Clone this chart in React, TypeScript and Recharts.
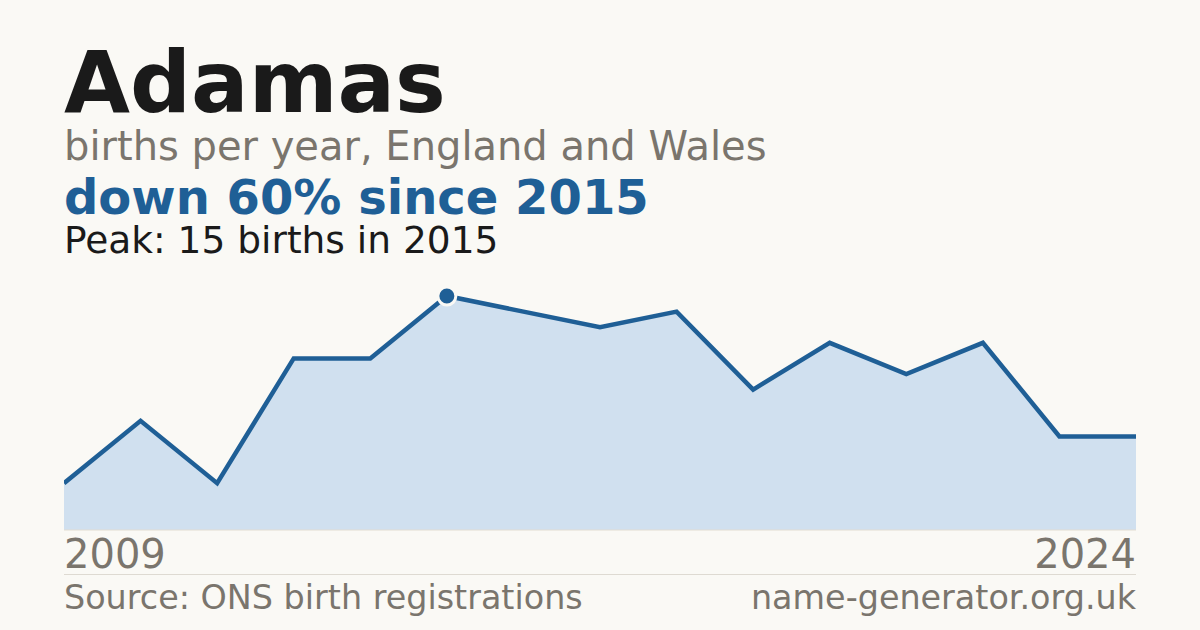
import { AreaChart, Area, XAxis, YAxis, ReferenceDot } from "recharts"

const years = [2009, 2010, 2011, 2013, 2014, 2015, 2016, 2017, 2018, 2019, 2020, 2021, 2022, 2023, 2024]
const births = [3, 7, 3, 11, 11, 15, 14, 13, 14, 9, 12, 10, 12, 6, 6]
const axisYears = [2009, 2024]

const peakYear = 2015
const peakValue = 15

const data = years.map((year, i) => ({ year, births: births[i] }))

const BG = "#faf9f5"
const BLUE = "#1f5f96"
const GREY = "#7a756d"
const FONT = "'DejaVu Sans', sans-serif"

function YearTick(props: any) {
  const { x, payload } = props
  const first = payload.value === axisYears[0]
  return (
    <text x={x} y={288} textAnchor={first ? "start" : "end"} fill={GREY} fontSize={40} fontFamily={FONT}>
      {payload.value}
    </text>
  )
}

// line-height 0.8, so the baseline sits 0.746em below the top of the box
const line = (baseline: number, size: number, color: string, weight: number | string = 400) => ({
  position: "absolute" as const,
  left: 64,
  top: baseline - 0.746 * size,
  fontSize: size,
  lineHeight: 0.8,
  color,
  fontWeight: weight,
  whiteSpace: "nowrap" as const,
})

export default function App() {
  return (
    <div style={{ position: "absolute", left: 0, top: 0, width: 1200, height: 630, background: BG, fontFamily: FONT, overflow: "hidden" }}>
      <div style={line(113, 85.3, "#1a1a1a", 700)}>Adamas</div>
      <div style={line(160, 40, GREY)}>births per year, England and Wales</div>
      <div style={line(214, 48, BLUE, 700)}>down 60% since 2015</div>
      <div style={line(253, 37.5, "#1a1a1a")}>Peak: 15 births in 2015</div>

      <div style={{ position: "absolute", left: 64, top: 280 }}>
        <AreaChart width={1072} height={300} data={data} margin={{ top: 16, right: 0, left: 0, bottom: 0 }}>
          <XAxis
            dataKey="year"
            ticks={axisYears}
            interval={0}
            height={50}
            axisLine={{ stroke: "#e2ddd2", strokeWidth: 1 }}
            tickLine={false}
            tick={<YearTick />}
          />
          <YAxis hide domain={[0, peakValue]} />
          <Area
            type="linear"
            dataKey="births"
            stroke={BLUE}
            strokeWidth={4.5}
            fill="#d0e0ef"
            fillOpacity={1}
            dot={false}
            activeDot={false}
            isAnimationActive={false}
          />
          <ReferenceDot x={peakYear} y={peakValue} r={9} fill={BLUE} stroke={BG} strokeWidth={3} ifOverflow="visible" />
        </AreaChart>
      </div>

      <div style={{ position: "absolute", left: 64, top: 574, width: 1072, borderTop: "1px solid #dedad2" }} />
      <div style={line(610, 33.4, GREY)}>Source: ONS birth registrations</div>
      <div style={{ ...line(610, 33.4, GREY), left: "auto", right: 64 }}>name-generator.org.uk</div>
    </div>
  )
}
